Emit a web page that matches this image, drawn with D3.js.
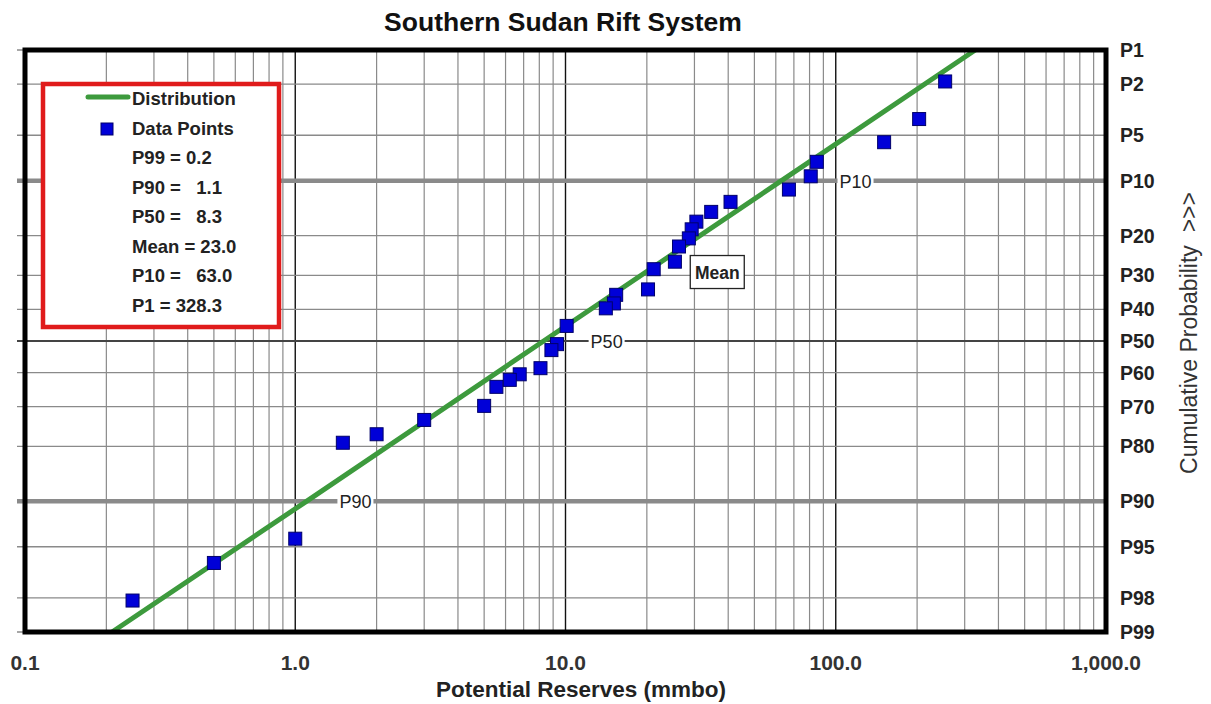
<!DOCTYPE html>
<html><head><meta charset="utf-8">
<script src="https://cdn.jsdelivr.net/npm/d3@7"></script>
<style>
body{margin:0;background:#fff;}
text{font-family:Arial,"Liberation Sans",sans-serif;}
</style>
</head><body>
<svg id="chart" width="1211" height="704"></svg>
<script>
// ---------- data ----------
const chartTitle = "Southern Sudan Rift System";
const xTitle = "Potential Reserves (mmbo)";
const yTitle = "Cumulative Probability  >>>";
const xTickValues = [0.1, 1, 10, 100, 1000];
const probTicks = [1, 2, 5, 10, 20, 30, 40, 50, 60, 70, 80, 90, 95, 98, 99];
const probTickLabels = ["P1","P2","P5","P10","P20","P30","P40","P50","P60","P70","P80","P90","P95","P98","P99"];
const dataValues = [254, 203.5, 151, 85.1, 80.8, 67.1, 40.8, 34.6, 30.5, 29.3, 28.6, 26.3, 25.4, 21.2, 20.2,
                    15.4, 15.1, 14.1, 10.1, 9.3, 8.87, 8.08, 6.77, 6.22, 5.55, 5.0, 3.0, 2.0, 1.5, 1.0, 0.5, 0.25];
const dataProbs  = [1.9, 3.8, 5.6, 7.6, 9.4, 11.3, 13.3, 15.1, 17.0, 18.6, 20.6, 22.5, 26.3, 28.3, 34.0,
                    35.6, 38.2, 39.7, 45.2, 51.0, 52.9, 58.6, 60.5, 62.2, 64.3, 69.8, 73.6, 77.2, 79.2, 94.3, 96.2, 98.1];
const distProbs  = [99, 90, 50, 10, 1];
const distValues = [0.21, 1.1, 8.3, 63.0, 328.3];
const legendSeries = ["Distribution", "Data Points"];
const legendStats = ["P99 = 0.2", "P90 =   1.1", "P50 =   8.3", "Mean = 23.0", "P10 =   63.0", "P1 = 328.3"];
const markerLabels = ["P90", "P50", "P10"];
const markerProbs  = [90, 50, 10];
const markerValues = [1.1, 8.3, 63.0];
const meanLabel = "Mean";
const meanValue = 23.0;
const meanProb = 26;

// ---------- helpers ----------
function invNorm(p) {
  const a=[-3.969683028665376e+01,2.209460984245205e+02,-2.759285104469687e+02,1.383577518672690e+02,-3.066479806614716e+01,2.506628277459239e+00];
  const b=[-5.447609879822406e+01,1.615858368580409e+02,-1.556989798598866e+02,6.680131188771972e+01,-1.328068155288572e+01];
  const c=[-7.784894002430293e-03,-3.223964580411365e-01,-2.400758277161838e+00,-2.549732539343734e+00,4.374664141464968e+00,2.938163982698783e+00];
  const d=[7.784695709041462e-03,3.224671290700398e-01,2.445134137142996e+00,3.754408661907416e+00];
  const pl=0.02425, ph=1-pl; let q,r;
  if (p<pl){q=Math.sqrt(-2*Math.log(p));return (((((c[0]*q+c[1])*q+c[2])*q+c[3])*q+c[4])*q+c[5])/((((d[0]*q+d[1])*q+d[2])*q+d[3])*q+1);}
  if (p<=ph){q=p-0.5;r=q*q;return (((((a[0]*r+a[1])*r+a[2])*r+a[3])*r+a[4])*r+a[5])*q/(((((b[0]*r+b[1])*r+b[2])*r+b[3])*r+b[4])*r+1);}
  q=Math.sqrt(-2*Math.log(1-p));return -(((((c[0]*q+c[1])*q+c[2])*q+c[3])*q+c[4])*q+c[5])/((((d[0]*q+d[1])*q+d[2])*q+d[3])*q+1);
}
const zOf = P => invNorm(1 - P/100);

// ---------- layout ----------
const L = 25, R = 1106, T = 50, B = 632;
const svg = d3.select("#chart");
const x = d3.scaleLog().domain([0.1, 1000]).range([L, R]);
const yz = d3.scaleLinear().domain([zOf(99), zOf(1)]).range([B, T]);
const y = P => yz(zOf(P));

svg.append("rect").attr("width",1211).attr("height",704).attr("fill","#fff");

// vertical grid
const minorX = [];
for (let dec = 0.1; dec < 1000; dec *= 10) for (let k = 2; k <= 9; k++) minorX.push(dec*k);
svg.append("g").selectAll("line").data(minorX).join("line")
  .attr("x1", d => x(d)).attr("x2", d => x(d)).attr("y1", T).attr("y2", B)
  .attr("stroke", "#8a8a8a").attr("stroke-width", 1.2);
svg.append("g").selectAll("line").data(xTickValues.slice(1, -1)).join("line")
  .attr("x1", d => x(d)).attr("x2", d => x(d)).attr("y1", T).attr("y2", B)
  .attr("stroke", "#111").attr("stroke-width", 1.4);

// horizontal grid
svg.append("g").selectAll("line").data(probTicks).join("line")
  .attr("x1", L - 8).attr("x2", R).attr("y1", d => y(d)).attr("y2", d => y(d))
  .attr("stroke", d => d === 50 ? "#444" : "#8a8a8a")
  .attr("stroke-width", d => (d === 10 || d === 90) ? 4.5 : (d === 50 ? 1.8 : 1.3));

// marker labels on P90 / P50 / P10 lines
const markerOffsets = [49, 63, 74];
const mg = svg.append("g");
markerLabels.forEach((lab, i) => {
  const cx = x(markerValues[i]) + markerOffsets[i], cy = y(markerProbs[i]);
  const t = mg.append("text").attr("x", cx).attr("y", cy + 7).attr("text-anchor","middle")
    .attr("font-size", 18).attr("fill", "#222").text(lab);
  const bb = t.node().getBBox();
  mg.insert("rect", "text").attr("x", bb.x - 2).attr("y", cy - 4).attr("width", bb.width + 4).attr("height", 8).attr("fill", "#fff");
});

// distribution line
const line = d3.line().x((d, i) => x(distValues[i])).y((d, i) => y(distProbs[i]));
svg.append("path").datum(distProbs).attr("d", line)
  .attr("fill", "none").attr("stroke", "#3d9a3d").attr("stroke-width", 5);

// data points
const S = 13;
svg.append("g").selectAll("rect").data(dataValues).join("rect")
  .attr("x", d => x(d) - S/2).attr("y", (d, i) => y(dataProbs[i]) - S/2)
  .attr("width", S).attr("height", S)
  .attr("fill", "#0000d8").attr("stroke", "#00006a").attr("stroke-width", 1);

// mean label box
const mx = x(meanValue) + 27, my = y(meanProb) - 5;
svg.append("rect").attr("x", mx).attr("y", my).attr("width", 54).attr("height", 33)
  .attr("fill", "#fff").attr("stroke", "#222").attr("stroke-width", 1.3);
svg.append("text").attr("x", mx + 27).attr("y", my + 23).attr("text-anchor", "middle")
  .attr("font-size", 17.5).attr("font-weight", "bold").attr("fill", "#222").text(meanLabel);

// frame
svg.append("rect").attr("x", L).attr("y", T).attr("width", R - L).attr("height", B - T)
  .attr("fill", "none").attr("stroke", "#000").attr("stroke-width", 5);

// title
svg.append("text").attr("x", 563).attr("y", 31).attr("text-anchor", "middle")
  .attr("font-size", 26.5).attr("font-weight", "bold").attr("fill", "#111").text(chartTitle);

// x tick labels
svg.append("g").selectAll("text").data(xTickValues).join("text")
  .attr("x", d => x(d)).attr("y", 670).attr("text-anchor", "middle")
  .attr("font-size", 21).attr("font-weight", "bold").attr("fill", "#333")
  .text(d => d3.format(",.1f")(d));
svg.append("text").attr("x", 581).attr("y", 697).attr("text-anchor", "middle")
  .attr("font-size", 22.5).attr("font-weight", "bold").attr("fill", "#222").text(xTitle);

// right prob labels
svg.append("g").selectAll("text").data(probTicks).join("text")
  .attr("x", 1120).attr("y", d => y(d) + 7)
  .attr("font-size", 19.5).attr("font-weight", "bold").attr("fill", "#222")
  .text((d, i) => probTickLabels[i]);
svg.append("text").attr("transform", "translate(1197,333) rotate(-90)").attr("text-anchor", "middle")
  .attr("font-size", 23).attr("fill", "#333").style("white-space", "pre").text(yTitle);

// legend
const lg = svg.append("g");
lg.append("rect").attr("x", 43).attr("y", 84).attr("width", 236).attr("height", 243)
  .attr("fill", "#fff").attr("stroke", "#e01b1b").attr("stroke-width", 4.5);
lg.append("line").attr("x1", 88).attr("x2", 128).attr("y1", 97).attr("y2", 97)
  .attr("stroke", "#3d9a3d").attr("stroke-width", 5).attr("stroke-linecap", "round");
lg.append("rect").attr("x", 101).attr("y", 123).attr("width", 12).attr("height", 12)
  .attr("fill", "#0000d8").attr("stroke", "#00006a");
const legendRows = legendSeries.concat(legendStats);
lg.selectAll("text.l").data(legendRows).join("text").attr("class", "l")
  .attr("x", 132).attr("y", (d, i) => 105 + i * 29.5)
  .attr("font-size", 18.5).attr("font-weight", "bold").attr("fill", "#222")
  .style("white-space", "pre").text(d => d);
</script>
</body></html>
